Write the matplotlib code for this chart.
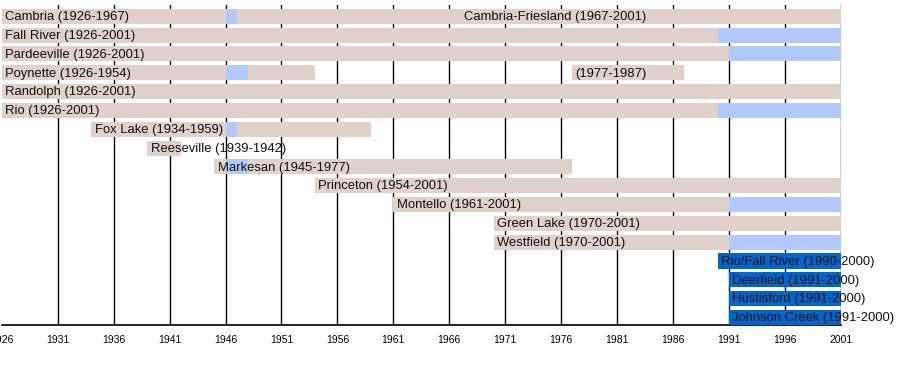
import matplotlib

matplotlib.use("Agg")
import matplotlib.pyplot as plt

# row index -> school/conference member (top to bottom)
rows = ["Cambria", "Fall River", "Pardeeville", "Poynette", "Randolph", "Rio",
        "Fox Lake", "Reeseville", "Markesan", "Princeton", "Montello",
        "Green Lake", "Westfield", "Rio/Fall River", "Deerfield", "Hustisford",
        "Johnson Creek"]

# membership periods (tan)
tan_row = [0, 0, 1, 2, 3, 3, 4, 5, 6, 7, 8, 9, 10, 11, 12]
tan_start = [1926, 1967, 1926, 1926, 1926, 1977, 1926, 1926, 1934, 1939, 1945, 1954, 1961, 1970, 1970]
tan_end = [1967, 2001, 2001, 2001, 1954, 1987, 2001, 2001, 1959, 1942, 1977, 2001, 2001, 2001, 2001]

# light blue segments
lb_row = [0, 1, 2, 3, 5, 6, 8, 10, 12]
lb_start = [1946, 1990, 1991, 1946, 1990, 1946, 1946, 1991, 1991]
lb_end = [1947, 2001, 2001, 1948, 2001, 1947, 1948, 2001, 2001]

# dark blue segments
db_row = [13, 14, 15, 16]
db_start = [1990, 1991, 1991, 1991]
db_end = [2001, 2001, 2001, 2001]

# bar labels
lab_row = [0, 0, 1, 2, 3, 3, 4, 5, 6, 7, 8, 9, 10, 11, 12, 13, 14, 15, 16]
lab_year = [1926, 1967, 1926, 1926, 1926, 1977, 1926, 1926, 1934, 1939, 1945, 1954,
            1961, 1970, 1970, 1990, 1991, 1991, 1991]
lab_text = ["Cambria (1926-1967)", "Cambria-Friesland (1967-2001)", "Fall River (1926-2001)",
            "Pardeeville (1926-2001)", "Poynette (1926-1954)", "(1977-1987)",
            "Randolph (1926-2001)", "Rio (1926-2001)", "Fox Lake (1934-1959)",
            "Reeseville (1939-1942)", "Markesan (1945-1977)", "Princeton (1954-2001)",
            "Montello (1961-2001)", "Green Lake (1970-2001)", "Westfield (1970-2001)",
            "Rio/Fall River (1990-2000)", "Deerfield (1991-2000)", "Hustisford (1991-2000)",
            "Johnson Creek (1991-2000)"]

years = list(range(1926, 2002, 5))

TAN = "#e0d2ca"
LBLUE = "#b2c9ff"
DBLUE = "#0066cc"

plt.rcParams["font.family"] = ["Liberation Sans", "DejaVu Sans"]

fig = plt.figure(figsize=(9, 3.75), dpi=100)
ax = fig.add_axes([0.002, 1 - 325 / 375, 839 / 900, 320 / 375])

H = 0.8
for r, s, e in zip(tan_row, tan_start, tan_end):
    ax.barh(r, e - s, left=s, height=H, color=TAN, zorder=2)
for r, s, e in zip(lb_row, lb_start, lb_end):
    ax.barh(r, e - s, left=s, height=H, color=LBLUE, zorder=3)
for r, s, e in zip(db_row, db_start, db_end):
    ax.barh(r, e - s, left=s, height=H, color=DBLUE, zorder=3)

for r, y, t in zip(lab_row, lab_year, lab_text):
    ax.text(y + 0.3, r + 0.04, t, ha="left", va="center", fontsize=9.4,
            color="#111111", zorder=5)

for y in years[1:]:
    ax.axvline(y, color="black", lw=1, zorder=1)

ax.set_xlim(1926, 2001)
ax.set_ylim(16.4, -0.6)
ax.set_xticks(years)
ax.set_xticklabels([str(y) for y in years], fontsize=7.5)
ax.tick_params(axis="x", length=0, pad=7)
ax.set_yticks([])
for side in ("top", "right", "left"):
    ax.spines[side].set_visible(False)
ax.spines["bottom"].set_linewidth(1.2)
ax.patch.set_alpha(0)

fig.savefig("out.png", dpi=100)
